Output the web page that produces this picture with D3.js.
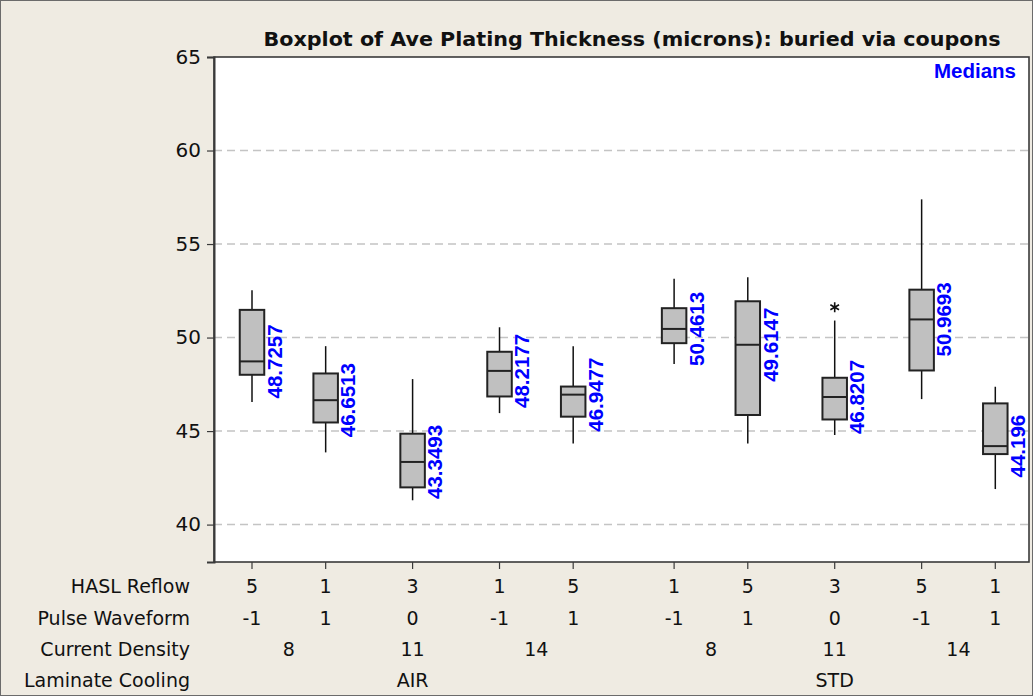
<!DOCTYPE html>
<html>
<head>
<meta charset="utf-8">
<script src="https://cdn.jsdelivr.net/npm/d3@7"></script>
<style>
  body { margin: 0; background: #efebe2; }
  svg { display: block; }
</style>
</head>
<body>
<svg id="chart" width="1033" height="696"></svg>
<script>
// factor levels for each box (left to right)
const haslReflow = [5, 1, 3, 1, 5, 1, 5, 3, 5, 1];
const pulseWaveform = [-1, 1, 0, -1, 1, -1, 1, 0, -1, 1];
const currentDensity = [8, 8, 11, 14, 14, 8, 8, 11, 14, 14];
const laminateCooling = ['AIR', 'AIR', 'AIR', 'AIR', 'AIR', 'STD', 'STD', 'STD', 'STD', 'STD'];

// box statistics
const medians = [48.7257, 46.6513, 43.3493, 48.2177, 46.9477, 50.4613, 49.6147, 46.8207, 50.9693, 44.196];
const q1 = [48.01, 45.46, 41.99, 46.85, 45.77, 49.70, 45.86, 45.62, 48.24, 43.77];
const q3 = [51.48, 48.08, 44.86, 49.24, 47.38, 51.57, 51.94, 47.85, 52.56, 46.48];
const whiskerLow = [46.55, 43.86, 41.30, 45.96, 44.33, 48.58, 44.33, 44.79, 46.71, 41.90];
const whiskerHigh = [52.53, 49.54, 47.78, 50.55, 49.54, 53.15, 53.22, 50.91, 57.39, 47.37];
const outliers = [{box: 7, value: 51.62}];

const yTicks = [40, 45, 50, 55, 60, 65];
const gridValues = [40, 45, 50, 55, 60];

const svg = d3.select('#chart');
const W = 1033, H = 696;
const plot = {left: 214, right: 1029, top: 57, bottom: 562};

// figure background + border
svg.append('rect')
    .attr('x', 0.5).attr('y', 0.5)
    .attr('width', W - 1).attr('height', H - 1)
    .attr('fill', '#efebe2')
    .attr('stroke', '#6b6b6b');

// positions along x: wider gaps between density groups and cooling groups
const pos = [];
haslReflow.forEach((d, i) => {
    if (i == 0) { pos.push(0); return; }
    let gap = 1;
    if (laminateCooling[i] != laminateCooling[i - 1]) gap = 1.37;
    else if (currentDensity[i] != currentDensity[i - 1]) gap = 1.18;
    pos.push(pos[i - 1] + gap);
});

const x = d3.scaleLinear()
    .domain([0, pos[pos.length - 1]])
    .range([252, 995.3]);

const y = d3.scaleLinear()
    .domain([38, 65])
    .range([plot.bottom, plot.top]);

const boxW = 24.5;

// plot area
svg.append('rect')
    .attr('x', plot.left).attr('y', plot.top)
    .attr('width', plot.right - plot.left)
    .attr('height', plot.bottom - plot.top)
    .attr('fill', '#ffffff');

// gridlines
svg.append('g')
    .selectAll('line')
    .data(gridValues)
    .enter()
    .append('line')
    .attr('x1', plot.left).attr('x2', plot.right)
    .attr('y1', d => y(d)).attr('y2', d => y(d))
    .attr('stroke', '#c4c4c4')
    .attr('stroke-width', 1.5)
    .attr('stroke-dasharray', '8,5');

// plot frame
svg.append('rect')
    .attr('x', plot.left).attr('y', plot.top)
    .attr('width', plot.right - plot.left)
    .attr('height', plot.bottom - plot.top)
    .attr('fill', 'none')
    .attr('stroke', '#3a3a3a')
    .attr('stroke-width', 1.6);

// y axis
const yAxis = d3.axisLeft(y)
    .tickValues(yTicks)
    .tickSize(7)
    .tickPadding(6)
    .tickFormat(d3.format('d'));

const gy = svg.append('g')
    .attr('transform', `translate(${plot.left},0)`)
    .call(yAxis);
gy.select('.domain').attr('stroke', '#3a3a3a').attr('stroke-width', 2);
gy.selectAll('.tick line').attr('stroke', '#3a3a3a').attr('stroke-width', 1.2);
gy.selectAll('.tick text')
    .attr('font-family', 'DejaVu Sans, sans-serif')
    .attr('font-size', '20px')
    .attr('fill', '#111');

// x ticks under each box
svg.append('g')
    .selectAll('line')
    .data(pos)
    .enter()
    .append('line')
    .attr('x1', d => x(d)).attr('x2', d => x(d))
    .attr('y1', plot.bottom).attr('y2', plot.bottom + 7)
    .attr('stroke', '#3a3a3a')
    .attr('stroke-width', 1.2);

const boxes = svg.append('g');

const box = boxes.selectAll('g')
    .data(medians.map((m, i) => ({
        i: i, p: pos[i], med: m, q1: q1[i], q3: q3[i],
        lo: whiskerLow[i], hi: whiskerHigh[i]
    })))
    .enter()
    .append('g');

// whiskers
box.append('line')
    .attr('x1', d => x(d.p)).attr('x2', d => x(d.p))
    .attr('y1', d => y(d.hi)).attr('y2', d => y(d.q3))
    .attr('stroke', '#111').attr('stroke-width', 1.5);
box.append('line')
    .attr('x1', d => x(d.p)).attr('x2', d => x(d.p))
    .attr('y1', d => y(d.q1)).attr('y2', d => y(d.lo))
    .attr('stroke', '#111').attr('stroke-width', 1.5);

box.append('rect')
    .attr('x', d => x(d.p) - boxW / 2)
    .attr('y', d => y(d.q3))
    .attr('width', boxW)
    .attr('height', d => y(d.q1) - y(d.q3))
    .attr('fill', '#c0c0c0')
    .attr('stroke', '#222')
    .attr('stroke-width', 2);

box.append('line')
    .attr('x1', d => x(d.p) - boxW / 2).attr('x2', d => x(d.p) + boxW / 2)
    .attr('y1', d => y(d.med)).attr('y2', d => y(d.med))
    .attr('stroke', '#222').attr('stroke-width', 2);

// median labels, rotated
box.append('text')
    .attr('transform', d => `translate(${x(d.p) + boxW / 2 + 17.5},${y(d.med)}) rotate(-90)`)
    .attr('text-anchor', 'middle')
    .attr('font-family', 'Liberation Sans, Arial, sans-serif')
    .attr('font-weight', 'bold')
    .attr('font-size', '20.5px')
    .attr('fill', '#0000ff')
    .text(d => d.med);

// outlier asterisk
const star = d3.symbol().type(d3.symbolAsterisk || d3.symbolCross).size(60);
outliers.forEach(o => {
    const cx = x(pos[o.box]), cy = y(o.value);
    const r = 5;
    let path = '';
    for (let k = 0; k < 3; k++) {
        const a = Math.PI / 2 + k * Math.PI / 3;
        path += `M${cx - r * Math.cos(a)},${cy - r * Math.sin(a)}L${cx + r * Math.cos(a)},${cy + r * Math.sin(a)}`;
    }
    svg.append('path')
        .attr('d', path)
        .attr('stroke', '#111')
        .attr('stroke-width', 1.6)
        .attr('fill', 'none');
});

// title
svg.append('text')
    .attr('x', 263.5)
    .attr('y', 46)
    .attr('font-family', 'DejaVu Sans Condensed, DejaVu Sans, sans-serif')
    .attr('font-weight', 'bold')
    .attr('font-size', '20px')
    .attr('fill', '#111')
    .attr('textLength', 737)
    .attr('lengthAdjust', 'spacingAndGlyphs')
    .text('Boxplot of Ave Plating Thickness (microns): buried via coupons');

// legend
svg.append('text')
    .attr('x', 1016)
    .attr('y', 78)
    .attr('text-anchor', 'end')
    .attr('font-family', 'Liberation Sans, Arial, sans-serif')
    .attr('font-weight', 'bold')
    .attr('font-size', '20.5px')
    .attr('fill', '#0000ff')
    .text('Medians');

// category label rows
const rowNames = ['HASL Reflow', 'Pulse Waveform', 'Current Density', 'Laminate Cooling'];
const rowY = [593, 624.5, 656, 687];
const labelFont = 'DejaVu Sans, sans-serif';

svg.append('g')
    .selectAll('text')
    .data(rowNames)
    .enter()
    .append('text')
    .attr('x', 190)
    .attr('y', (d, i) => rowY[i])
    .attr('text-anchor', 'end')
    .attr('font-family', labelFont)
    .attr('font-size', '19px')
    .attr('fill', '#111')
    .text(d => d);

// groups the levels and centres the label over the member boxes
function groupLabels(keys, values) {
    const out = [];
    keys.forEach((k, i) => {
        const last = out[out.length - 1];
        if (last && last.key == k) last.ps.push(pos[i]);
        else out.push({key: k, label: values[i], ps: [pos[i]]});
    });
    return out.map(g => ({label: g.label, p: d3.mean([d3.min(g.ps), d3.max(g.ps)])}));
}

const rows = [
    haslReflow.map((d, i) => ({label: d, p: pos[i]})),
    pulseWaveform.map((d, i) => ({label: d, p: pos[i]})),
    groupLabels(currentDensity.map((d, i) => laminateCooling[i] + d), currentDensity),
    groupLabels(laminateCooling, laminateCooling)
];

rows.forEach((row, r) => {
    svg.append('g')
        .selectAll('text')
        .data(row)
        .enter()
        .append('text')
        .attr('x', d => x(d.p))
        .attr('y', rowY[r])
        .attr('text-anchor', 'middle')
        .attr('font-family', labelFont)
        .attr('font-size', '19px')
        .attr('fill', '#111')
        .text(d => d.label);
});
</script>
</body>
</html>
